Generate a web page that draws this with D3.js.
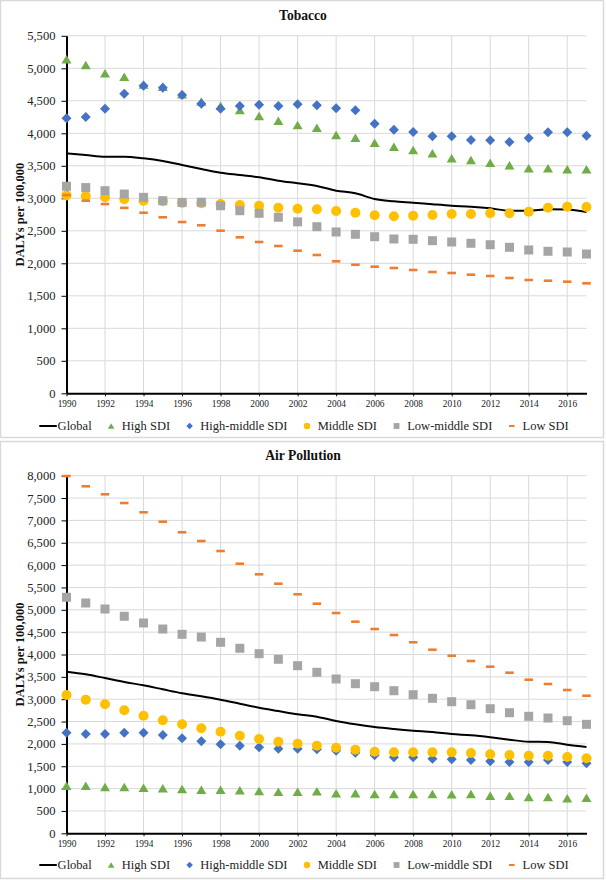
<!DOCTYPE html>
<html>
<head>
<meta charset="utf-8">
<script src="https://cdn.jsdelivr.net/npm/d3@7"></script>
<style>
  html, body { margin: 0; padding: 0; background: #fff; }
  svg { display: block; }
  text { font-family: "Liberation Serif", "Times New Roman", serif; }
</style>
</head>
<body>
<svg id="chart" width="606" height="880"></svg>
<script>
// ---------------- DATA ----------------
const years = d3.range(1990, 2018);
const xTickLabels = ["1990","1992","1994","1996","1998","2000","2002","2004","2006","2008","2010","2012","2014","2016"];
const seriesNames = ["Global", "High SDI", "High-middle SDI", "Middle SDI", "Low-middle SDI", "Low SDI"];

// Tobacco
const tobaccoGlobal     = [3692,3666,3640,3640,3615,3574,3512,3451,3394,3358,3323,3271,3231,3189,3117,3077,2989,2954,2932,2908,2886,2871,2846,2809,2809,2831,2826,2789];
const tobaccoHigh       = [5138,5051,4923,4871,4750,4717,4600,4490,4425,4358,4266,4194,4128,4086,3974,3932,3855,3794,3743,3692,3615,3589,3548,3508,3462,3462,3446,3446];
const tobaccoHighMiddle = [4231,4251,4378,4609,4732,4702,4589,4455,4378,4420,4440,4420,4446,4431,4385,4354,4148,4055,4020,3954,3954,3897,3892,3866,3928,4015,4015,3963];
const tobaccoMiddle     = [3045,3035,3015,2985,2963,2954,2930,2923,2912,2897,2886,2855,2840,2831,2805,2778,2738,2723,2733,2743,2758,2758,2769,2769,2794,2855,2871,2866];
const tobaccoLowMiddle  = [3185,3165,3117,3066,3015,2963,2935,2940,2885,2809,2769,2708,2638,2563,2482,2446,2409,2374,2369,2348,2328,2308,2286,2246,2205,2185,2174,2143];
const tobaccoLow        = [3050,2963,2912,2853,2778,2708,2635,2585,2502,2400,2328,2266,2194,2128,2031,1978,1948,1928,1897,1866,1851,1825,1805,1774,1743,1732,1717,1692];
const tobaccoYTicks     = d3.range(0, 5501, 500);

// Air Pollution
const airGlobal     = [3615,3557,3474,3385,3311,3221,3132,3065,2989,2899,2810,2736,2662,2609,2512,2438,2378,2333,2295,2266,2221,2192,2148,2094,2049,2043,1982,1931];
const airHigh       = [1065,1065,1036,1036,1020,1006,991,975,975,962,946,931,931,940,895,895,879,879,879,879,872,879,841,841,812,812,783,797];
const airHighMiddle = [2251,2221,2221,2251,2251,2199,2125,2058,1991,1960,1924,1893,1893,1879,1848,1803,1745,1700,1700,1669,1655,1640,1611,1595,1595,1640,1595,1566];
const airMiddle     = [3094,2989,2886,2752,2631,2528,2438,2349,2273,2183,2110,2049,2004,1960,1915,1870,1826,1812,1812,1812,1812,1796,1767,1752,1736,1736,1707,1678];
const airLowMiddle  = [5280,5152,5018,4855,4705,4570,4452,4391,4273,4139,4018,3893,3750,3602,3452,3347,3280,3190,3101,3020,2944,2877,2787,2698,2617,2579,2519,2438];
const airLow        = [7993,7763,7584,7389,7181,6971,6734,6539,6315,6031,5794,5584,5347,5137,4928,4734,4570,4436,4273,4107,3973,3855,3727,3593,3436,3340,3206,3078];
const airYTicks     = d3.range(0, 8001, 500);

// ---------------- STYLE ----------------
const colors = { "Global": "#000000", "High SDI": "#70AD47", "High-middle SDI": "#4472C4",
                 "Middle SDI": "#FFC000", "Low-middle SDI": "#A5A5A5", "Low SDI": "#ED7D31" };
const W = 606;
const xLeft = 66.5, xRight = 586.5;

const panels = [
  { title: "Tobacco", top: 0, height: 438, plotTop: 35.8, plotBottom: 393.3, yMax: 5500, yTicks: tobaccoYTicks,
    series: [tobaccoGlobal, tobaccoHigh, tobaccoHighMiddle, tobaccoMiddle, tobaccoLowMiddle, tobaccoLow],
    titleY: 15, legendY: 426 },
  { title: "Air Pollution", top: 441, height: 438, plotTop: 475.7, plotBottom: 833.3, yMax: 8000, yTicks: airYTicks,
    series: [airGlobal, airHigh, airHighMiddle, airMiddle, airLowMiddle, airLow],
    titleY: 455, legendY: 865 }
];

const svg = d3.select("#chart");

function drawMarker(g, name, cx, cy, s) {
  const c = colors[name];
  if (name === "High SDI") {
    const w = 10 * s, h = 8.5 * s;
    g.append("path").attr("d", `M${cx},${cy - h/2}L${cx + w/2},${cy + h/2}L${cx - w/2},${cy + h/2}Z`).attr("fill", c);
  } else if (name === "High-middle SDI") {
    const r = 5 * s;
    g.append("path").attr("d", `M${cx},${cy - r}L${cx + r},${cy}L${cx},${cy + r}L${cx - r},${cy}Z`).attr("fill", c);
  } else if (name === "Middle SDI") {
    g.append("circle").attr("cx", cx).attr("cy", cy).attr("r", 5 * s).attr("fill", c);
  } else if (name === "Low-middle SDI") {
    const a = 9 * s;
    g.append("rect").attr("x", cx - a/2).attr("y", cy - a/2).attr("width", a).attr("height", a).attr("fill", c);
  } else if (name === "Low SDI") {
    const w = 8.5 * s, h = 2.6 * Math.max(s, 0.8);
    g.append("rect").attr("x", cx - w/2).attr("y", cy - h/2).attr("width", w).attr("height", h).attr("fill", c);
  }
}

panels.forEach(p => {
  const g = svg.append("g");
  // panel border
  g.append("rect").attr("x", 0.5).attr("y", p.top + 0.5).attr("width", W - 3).attr("height", p.height - 1)
    .attr("fill", "#fff").attr("stroke", "#d9d9d9").attr("stroke-width", 1.5);

  const x = d3.scaleLinear().domain([1990, 2017]).range([xLeft, xRight]);
  const y = d3.scaleLinear().domain([0, p.yMax]).range([p.plotBottom, p.plotTop]);

  // gridlines
  g.append("g").selectAll("line.h").data(p.yTicks.filter(v => v > 0)).join("line")
    .attr("x1", xLeft).attr("x2", xRight).attr("y1", d => y(d)).attr("y2", d => y(d))
    .attr("stroke", "#d9d9d9").attr("stroke-width", 1);
  g.append("g").selectAll("line.v").data(xTickLabels.map(Number).filter(v => v > 1990)).join("line")
    .attr("x1", d => x(d)).attr("x2", d => x(d)).attr("y1", p.plotTop).attr("y2", p.plotBottom)
    .attr("stroke", "#d9d9d9").attr("stroke-width", 1);

  // y axis
  const yAxis = d3.axisLeft(y).tickValues(p.yTicks).tickFormat(d3.format(",")).tickSizeInner(5).tickSizeOuter(0).tickPadding(6);
  const ya = g.append("g").attr("transform", `translate(${xLeft},0)`).call(yAxis);
  ya.select(".domain").attr("stroke", "#000").attr("stroke-width", 2);
  ya.selectAll(".tick line").attr("stroke", "#000").attr("stroke-width", 1);
  ya.selectAll(".tick text").attr("font-family", "Liberation Serif, Times New Roman, serif")
    .attr("font-size", 12.6).attr("fill", "#222");

  // x axis
  const xAxis = d3.axisBottom(x).tickValues(xTickLabels.map(Number)).tickFormat((d, i) => xTickLabels[i])
    .tickSizeInner(3).tickSizeOuter(0).tickPadding(4);
  const xa = g.append("g").attr("transform", `translate(0,${p.plotBottom})`).call(xAxis);
  xa.select(".domain").attr("stroke", "#000").attr("stroke-width", 2);
  xa.selectAll(".tick line").attr("stroke", "#000").attr("stroke-width", 1);
  xa.selectAll(".tick text").attr("font-family", "Liberation Serif, Times New Roman, serif")
    .attr("font-size", 9.4).attr("fill", "#222");

  // title
  g.append("text").attr("x", 303).attr("y", p.titleY).attr("dy", "0.35em").attr("text-anchor", "middle")
    .attr("font-weight", "bold").attr("font-size", 13.6).attr("fill", "#111").text(p.title);

  // y label
  g.append("text").attr("transform", `translate(20,${(p.plotTop + p.plotBottom) / 2}) rotate(-90)`)
    .attr("text-anchor", "middle").attr("dy", "0.35em").attr("font-weight", "bold").attr("font-size", 12.5)
    .attr("fill", "#111").text("DALYs per 100,000");

  // series
  const marks = g.append("g");
  seriesNames.forEach((name, si) => {
    const vals = p.series[si];
    if (name === "Global") {
      const line = d3.line().x((d, i) => x(years[i])).y(d => y(d)).curve(d3.curveMonotoneX);
      marks.append("path").datum(vals).attr("d", line).attr("fill", "none").attr("stroke", "#000").attr("stroke-width", 2);
    } else {
      const sg = marks.append("g");
      vals.forEach((v, i) => drawMarker(sg, name, x(years[i]), y(v), 1));
    }
  });

  // legend
  const lg = g.append("g");
  let cx = 0;
  const items = [];
  seriesNames.forEach((name, si) => {
    const it = lg.append("g");
    let textX;
    if (name === "Global") {
      it.append("line").attr("x1", 0).attr("x2", 17.5).attr("y1", 0).attr("y2", 0).attr("stroke", "#000").attr("stroke-width", 2);
      textX = 18.3;
    } else {
      drawMarker(it, name, 0, 0, 0.65);
      textX = 10.7;
    }
    const t = it.append("text").attr("x", textX).attr("y", 0).attr("dy", "0.35em").attr("font-size", 12.5)
      .attr("fill", "#222").text(name);
    const tw = t.node().getComputedTextLength();
    items.push({ g: it, lead: name === "Global" ? 0 : 0, end: textX + tw, isLine: name === "Global" });
  });
  // flow layout
  let pos = 0;
  const placed = [];
  items.forEach((it, i) => {
    let anchor;
    if (i === 0) { anchor = pos; pos = anchor + it.end; }
    else { anchor = pos + 19.5; pos = anchor + it.end; }
    placed.push(anchor);
  });
  const totalW = pos;
  const startX = 304 - totalW / 2;
  items.forEach((it, i) => it.g.attr("transform", `translate(${startX + placed[i]},${p.legendY})`));
});
</script>
</body>
</html>
